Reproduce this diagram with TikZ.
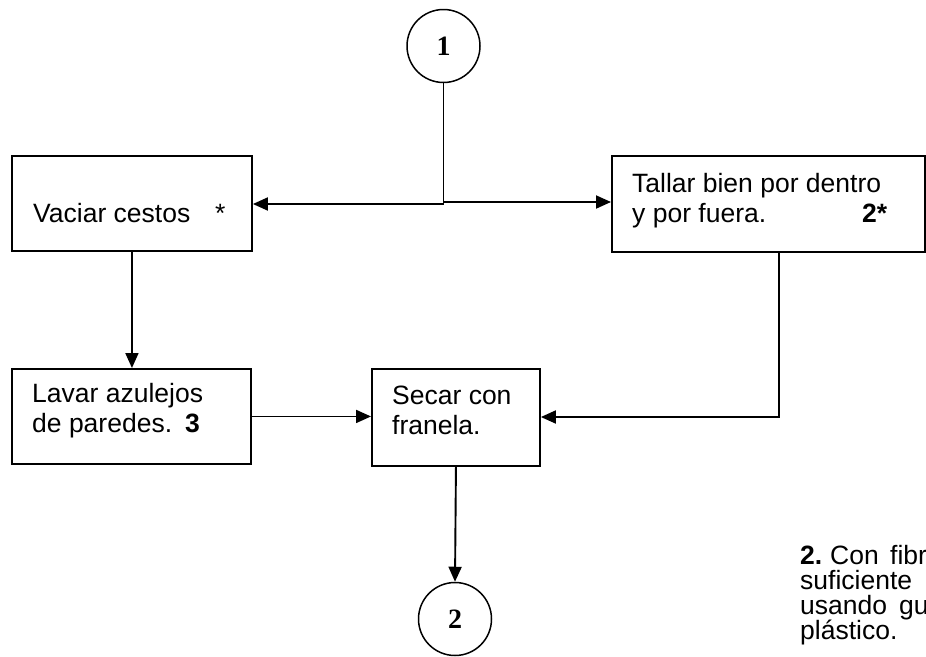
\documentclass[tikz,border=0pt]{standalone}
\usepackage{fontspec}
\setmainfont{Liberation Sans}
\newfontfamily\serifnum{Liberation Serif}
\usetikzlibrary{arrows.meta}
\begin{document}
\begin{tikzpicture}[x=1pt,y=-1pt,
  boxnode/.style={draw,line width=1.9pt,inner sep=0pt,anchor=north west},
  txt/.style={inner sep=0pt,anchor=base west,font=\fontsize{26.5}{30}\selectfont},
  conn/.style={line width=1.9pt},
  arr/.style={conn,-{Triangle[length=15pt,width=13pt]}},
  circ/.style={draw,circle,line width=1.5pt,minimum size=73pt,inner sep=0pt,font=\serifnum\bfseries\fontsize{28}{30}\selectfont}]
\useasboundingbox (0,0) rectangle (926,656);
\begin{scope}
\clip (0,0) rectangle (926,656);
% boxes
\node[boxnode,minimum width=240pt,minimum height=95pt] (vac) at (11,155) {};
\node[boxnode,minimum width=313pt,minimum height=96pt] (tal) at (611,155) {};
\node[boxnode,minimum width=239pt,minimum height=95pt] (lav) at (11,368) {};
\node[boxnode,minimum width=168pt,minimum height=97pt] (sec) at (371,368) {};
% circles
\node[circ] (c1) at (443.5,46) {1};
\node[circ] (c2) at (455,619) {2};
% connectors
\coordinate (jl) at (443.5,204);
\coordinate (jr) at (443.5,202);
\coordinate (tc) at (779,417);
\draw[conn] (c1.south) -- (jl) -- (jr);
\draw[arr] (jl) -- (vac.east |- jl);
\draw[arr] (jr) -- (tal.west |- jr);
\draw[arr] (vac.south) -- (vac.south |- lav.north);
\draw[arr] (lav.east) -- (sec.west |- lav.east);
\draw[arr] (tal.south -| tc) -- (tc) -- (sec.east |- tc);
\draw[arr] (sec.south) -- (c2.north);
% texts
\node[txt] (t1) at (33,222) {Vaciar cestos};
\node[txt] (t1s) at (215,222) {*};
\node[txt] (t2a) at (632,192) {Tallar bien por dentro};
\node[txt] (t2b) at (632,222) {y por fuera.};
\node[txt] (t2n) at (862,222) {\textbf{2*}};
\node[txt] (t3a) at (32,402) {Lavar azulejos};
\node[txt] (t3b) at (32,432) {de paredes.};
\node[txt] (t3n) at (185,432) {\textbf{3}};
\node[txt] (t4a) at (392,404) {Secar con};
\node[txt] (t4b) at (392,434) {franela.};
\node[txt] (f1a) at (800,564) {\textbf{2.}};
\node[txt] (f1b) at (830,564) {Con};
\node[txt] (f1c) at (890,564) {fibr};
\node[txt] (f2) at (800,589) {suficiente};
\node[txt] (f3a) at (800,614) {usando};
\node[txt] (f3b) at (899,614) {gu};
\node[txt] (f4) at (800,639) {plástico.};
\end{scope}
\end{tikzpicture}
\end{document}
